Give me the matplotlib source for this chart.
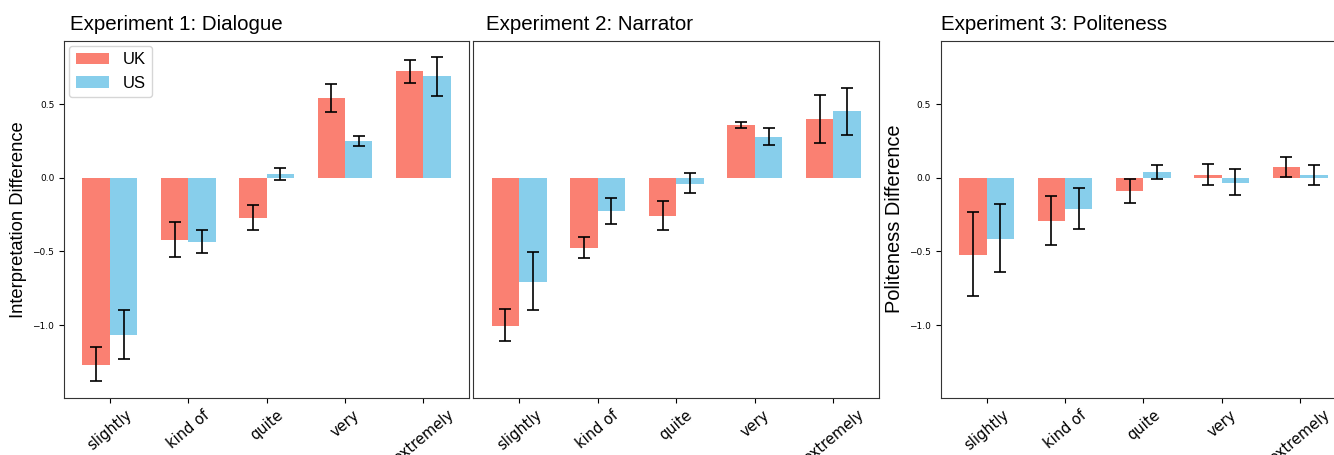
import numpy as np
import matplotlib.pyplot as plt

# hedge words on the x axis
categories = ['slightly', 'kind of', 'quite', 'very', 'extremely']

# Experiment 1: Dialogue (bar value, CI upper, CI lower)
exp1_uk = [-1.269, -0.421, -0.271, 0.541, 0.724]
exp1_uk_hi = [-1.151, -0.301, -0.183, 0.636, 0.801]
exp1_uk_lo = [-1.382, -0.540, -0.353, 0.444, 0.643]
exp1_us = [-1.066, -0.434, 0.025, 0.249, 0.690]
exp1_us_hi = [-0.898, -0.353, 0.066, 0.285, 0.821]
exp1_us_lo = [-1.233, -0.513, -0.018, 0.215, 0.552]

# Experiment 2: Narrator
exp2_uk = [-1.004, -0.475, -0.258, 0.358, 0.398]
exp2_uk_hi = [-0.889, -0.405, -0.158, 0.376, 0.559]
exp2_uk_lo = [-1.111, -0.547, -0.353, 0.337, 0.233]
exp2_us = [-0.708, -0.224, -0.041, 0.276, 0.453]
exp2_us_hi = [-0.507, -0.136, 0.029, 0.335, 0.611]
exp2_us_lo = [-0.898, -0.314, -0.102, 0.220, 0.287]

# Experiment 3: Politeness
exp3_uk = [-0.523, -0.292, -0.088, 0.018, 0.073]
exp3_uk_hi = [-0.231, -0.124, -0.007, 0.093, 0.138]
exp3_uk_lo = [-0.805, -0.455, -0.172, -0.052, 0.002]
exp3_us = [-0.414, -0.210, 0.039, -0.034, 0.018]
exp3_us_hi = [-0.179, -0.070, 0.086, 0.059, 0.088]
exp3_us_lo = [-0.640, -0.351, -0.007, -0.120, -0.050]

uk_color = '#FA8072'
us_color = '#87CEEB'
width = 0.35
x = np.arange(len(categories))

title_font = 'Liberation Sans'


def draw_panel(ax, uk, uk_hi, uk_lo, us, us_hi, us_lo, title, title_x):
    uk = np.array(uk)
    us = np.array(us)
    uk_err = [uk - np.array(uk_lo), np.array(uk_hi) - uk]
    us_err = [us - np.array(us_lo), np.array(us_hi) - us]
    ax.bar(x - width / 2, uk, width, color=uk_color, label='UK')
    ax.bar(x + width / 2, us, width, color=us_color, label='US')
    ax.errorbar(x - width / 2, uk, yerr=uk_err, fmt='none', ecolor='black',
                elinewidth=1.2, capsize=4, capthick=1.2)
    ax.errorbar(x + width / 2, us, yerr=us_err, fmt='none', ecolor='black',
                elinewidth=1.2, capsize=4, capthick=1.2)
    ax.set_xticks(x)
    ax.set_xticklabels(categories, rotation=40, fontsize=10.5)
    ax.set_ylim(-1.493, 0.93)
    ax.set_yticks([-1.0, -0.5, 0.0, 0.5])
    ax.tick_params(axis='y', labelsize=6.5)
    ax.set_title(title, loc='left', x=title_x, fontsize=14.8, family=title_font, pad=8)
    for s in ax.spines.values():
        s.set_color('#333333')


fig = plt.figure(figsize=(13.34, 4.55), dpi=100)
ax1 = fig.add_axes([0.048, 0.126, 0.3038, 0.7846])
ax2 = fig.add_axes([0.3548, 0.126, 0.3043, 0.7846])
ax3 = fig.add_axes([0.7052, 0.126, 0.3038, 0.7846])

draw_panel(ax1, exp1_uk, exp1_uk_hi, exp1_uk_lo, exp1_us, exp1_us_hi, exp1_us_lo,
           'Experiment 1: Dialogue', 0.015)
draw_panel(ax2, exp2_uk, exp2_uk_hi, exp2_uk_lo, exp2_us, exp2_us_hi, exp2_us_lo,
           'Experiment 2: Narrator', 0.031)
draw_panel(ax3, exp3_uk, exp3_uk_hi, exp3_uk_lo, exp3_us, exp3_us_hi, exp3_us_lo,
           'Experiment 3: Politeness', 0.0)

ax2.set_yticks([])
ax1.set_ylabel('Interpretation Difference', fontsize=13.2, family=title_font)
ax3.set_ylabel('Politeness Difference', fontsize=14.4, family=title_font)
ax1.legend(loc='upper left', prop={'family': title_font, 'size': 12},
           borderaxespad=0.3)

fig.savefig('out.png', dpi=100)
